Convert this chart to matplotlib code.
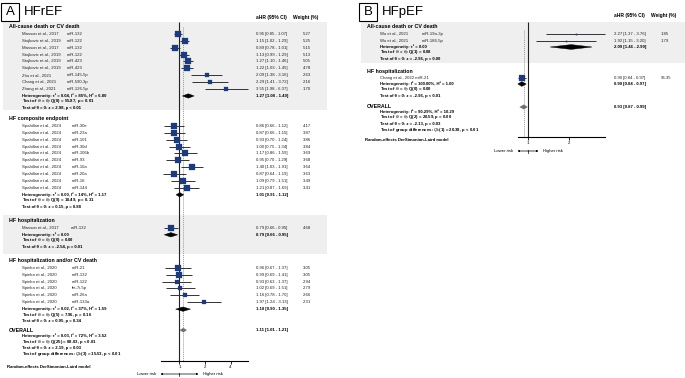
import matplotlib
matplotlib.use('Agg')
import matplotlib.pyplot as plt
from matplotlib.patches import Rectangle, Polygon
from matplotlib.transforms import blended_transform_factory
from matplotlib.ticker import NullLocator, FixedLocator, FixedFormatter
from matplotlib.lines import Line2D

plt.rcParams['font.family'] = ['Liberation Sans', 'DejaVu Sans']
plt.rcParams['mathtext.fontset'] = 'custom'
plt.rcParams['mathtext.rm'] = 'Liberation Sans'
plt.rcParams['mathtext.it'] = 'Liberation Sans:italic'
plt.rcParams['mathtext.bf'] = 'Liberation Sans:bold'

# ---------------- DATA: panel A (HFrEF) ----------------
a1_title = "All-cause death or CV death"
a1_study = ["Masson et al., 2017", "Stojkovic et al., 2019", "Masson et al., 2017",
            "Stojkovic et al., 2019", "Stojkovic et al., 2019", "Stojkovic et al., 2019",
            "Zhu et al., 2021", "Chang et al., 2021", "Zhang et al., 2021"]
a1_mir = ["miR-132", "miR-122", "miR-132", "miR-122", "miR-423", "miR-423",
          "miR-145-5p", "miR-590-3p", "miR-126-5p"]
a1_hr = [0.95, 1.15, 0.89, 1.13, 1.27, 1.22, 2.09, 2.29, 3.55]
a1_lo = [0.85, 1.02, 0.78, 0.99, 1.10, 1.03, 1.38, 1.41, 1.98]
a1_hi = [1.07, 1.29, 1.01, 1.29, 1.46, 1.45, 3.16, 3.72, 6.37]
a1_w = [5.27, 5.25, 5.15, 5.13, 5.05, 4.78, 2.63, 2.16, 1.70]
a1_sum = [1.27, 1.08, 1.49]
a1_stats = [r"Heterogeneity: τ² = 0.04, I² = 85%, H² = 6.80",
            r"Test of $\theta_i$ = $\theta_j$: Q(8) = 55.87, p = 0.01",
            r"Test of θ = 0: z = 2.98, p < 0.01"]

a2_title = "HF composite endpoint"
a2_study = ["Spahillari et al., 2024"] * 10
a2_mir = ["miR-30e", "miR-23a", "miR-101", "miR-30d", "miR-106b", "miR-93",
          "miR-10a", "miR-20a", "miR-16", "miR-144"]
a2_hr = [0.86, 0.87, 0.93, 1.00, 1.17, 0.95, 1.40, 0.87, 1.09, 1.21]
a2_lo = [0.66, 0.66, 0.70, 0.75, 0.86, 0.70, 1.03, 0.64, 0.79, 0.87]
a2_hi = [1.12, 1.15, 1.24, 1.34, 1.59, 1.29, 1.91, 1.19, 1.51, 1.69]
a2_w = [4.17, 3.87, 3.86, 3.84, 3.69, 3.68, 3.64, 3.63, 3.49, 3.41]
a2_sum = [1.01, 0.91, 1.12]
a2_stats = [r"Heterogeneity: τ² = 0.00, I² = 14%, H² = 1.17",
            r"Test of $\theta_i$ = $\theta_j$: Q(9) = 10.49, p = 0.31",
            r"Test of θ = 0: z = 0.15, p = 0.88"]

a3_title = "HF hospitalization"
a3_study = ["Masson et al., 2017"]
a3_mir = ["miR-132"]
a3_hr = [0.79]
a3_lo = [0.66]
a3_hi = [0.95]
a3_w = [4.68]
a3_sum = [0.79, 0.66, 0.95]
a3_stats = [r"Heterogeneity: τ² = 0.00",
            r"Test of $\theta_i$ = $\theta_j$: Q(0) = 0.00",
            r"Test of θ = 0: z = -2.54, p = 0.01"]

a4_title = "HF hospitalization and/or CV death"
a4_study = ["Spinka et al., 2020"] * 6
a4_mir = ["miR-21", "miR-132", "miR-122", "let-7i-5p", "miR-26a", "miR-133a"]
a4_hr = [0.96, 0.99, 0.93, 1.02, 1.16, 1.97]
a4_lo = [0.67, 0.69, 0.63, 0.69, 0.78, 1.24]
a4_hi = [1.37, 1.41, 1.37, 1.51, 1.70, 3.13]
a4_w = [3.05, 3.05, 2.94, 2.79, 2.66, 2.31]
a4_sum = [1.10, 0.90, 1.35]
a4_stats = [r"Heterogeneity: τ² = 0.02, I² = 37%, H² = 1.59",
            r"Test of $\theta_i$ = $\theta_j$: Q(5) = 7.96, p = 0.16",
            r"Test of θ = 0: z = 0.95, p = 0.34"]

a_overall = [1.11, 1.01, 1.21]
a_overall_stats = [r"Heterogeneity: τ² = 0.03, I² = 72%, H² = 3.52",
                   r"Test of $\theta_i$ = $\theta_j$: Q(25) = 88.03, p < 0.01",
                   r"Test of θ = 0: z = 2.19, p = 0.03",
                   r"Test of group differences: $Q_b$(3) = 15.53, p < 0.01"]
a_ticks = [1, 2, 4]

# ---------------- DATA: panel B (HFpEF) ----------------
b1_title = "All-cause death or CV death"
b1_study = ["Wu et al., 2021", "Wu et al., 2021"]
b1_mir = ["miR-19a-3p", "miR-186-5p"]
b1_hr = [2.27, 1.92]
b1_lo = [1.37, 1.15]
b1_hi = [3.76, 3.20]
b1_w = [1.85, 1.79]
b1_sum = [2.09, 1.46, 2.99]
b1_stats = [r"Heterogeneity: τ² = 0.00",
            r"Test of $\theta_i$ = $\theta_j$: Q(1) = 0.08",
            r"Test of θ = 0: z = -2.96, p = 0.00"]

b2_title = "HF hospitalization"
b2_study = ["Chang et al., 2022 miR-21"]
b2_mir = [""]
b2_hr = [0.90]
b2_lo = [0.84]
b2_hi = [0.97]
b2_w = [96.35]
b2_sum = [0.90, 0.84, 0.97]
b2_stats = [r"Heterogeneity: I² = 100.00%, H² = 1.00",
            r"Test of $\theta_i$ = $\theta_j$: Q(0) = 0.00",
            r"Test of θ = 0: z = -2.96, p < 0.01"]

b_overall = [0.93, 0.87, 0.99]
b_overall_stats = [r"Heterogeneity: I² = 90.29%, H² = 10.29",
                   r"Test of $\theta_i$ = $\theta_j$: Q(2) = 20.59, p = 0.00",
                   r"Test of θ = 0: z = -2.13, p = 0.03",
                   r"Test of group differences: $Q_b$(1) = 20.38, p < 0.01"]
b_ticks = [1, 2]

# ---------------- STYLE ----------------
W, H = 685, 378
NAVY = '#1c3b7d'
BAND = '#efefef'
LINE = '#333333'
F_ROW = 3.1
F_HEAD = 3.8
F_COL = 3.5

fig = plt.figure(figsize=(W / 100, H / 100), dpi=100)
bg = fig.add_axes([0, 0, 1, 1])
bg.set_xlim(0, W)
bg.set_ylim(H, 0)
bg.axis('off')


def make_forest_ax(x0, x1, ytop, ybot, xlim, ticks):
    ax = fig.add_axes([x0 / W, 1 - ybot / H, (x1 - x0) / W, (ybot - ytop) / H])
    ax.set_xscale('log', base=2)
    ax.set_xlim(*xlim)
    ax.set_ylim(ybot, ytop)
    ax.patch.set_alpha(0)
    for s in ['top', 'right', 'left']:
        ax.spines[s].set_visible(False)
    ax.spines['bottom'].set_linewidth(0.8)
    ax.yaxis.set_visible(False)
    ax.xaxis.set_major_locator(FixedLocator(ticks))
    ax.xaxis.set_major_formatter(FixedFormatter([str(t) for t in ticks]))
    ax.xaxis.set_minor_locator(NullLocator())
    ax.tick_params(axis='x', length=2, width=0.6, labelsize=3.1, pad=0.8)
    return ax


def diamond(ax, est, lo, hi, y, h, color):
    ax.add_patch(Polygon([(lo, y), (est, y - h), (hi, y), (est, y + h)],
                         closed=True, facecolor=color, edgecolor=color, lw=0.3,
                         clip_on=False, zorder=4))


def draw_panel(xoff, label, title, sections, overall, overall_stats, ax, g):
    bg.add_patch(Rectangle((1 + xoff, 2.5), 18.5, 18.5, fill=False, ec='black', lw=0.8))
    bg.text(10.25 + xoff, 12.2, label, ha='center', va='center', fontsize=9.5)
    bg.text(24 + xoff, 12, title, ha='left', va='center', fontsize=9.5)
    bg.text(256 + xoff, g['colhead_y'], "aHR (95% CI)", fontsize=F_COL,
            fontweight='bold', va='center')
    bg.text(293 + xoff, g['colhead_y'], "Weight (%)", fontsize=F_COL,
            fontweight='bold', va='center')

    y = g['y0']
    for k, sec in enumerate(sections):
        yh = y
        ys = [yh + g['head_gap'] + g['row_step'] * i for i in range(len(sec['hr']))]
        ysum = ys[-1] + g['sum_gap']
        ytxt = [ysum + g['txt_step'] * j for j in range(len(sec['stats']))]
        if sec['band']:
            top, bot = sec['band']
            bg.add_patch(Rectangle((3 + xoff, yh - top), W - 3 - xoff if xoff else 324,
                                   top + ytxt[-1] - yh + bot, facecolor=BAND,
                                   edgecolor='none', zorder=0))
        bg.text(9 + xoff, yh, sec['title'], fontsize=F_HEAD, fontweight='bold', va='center')
        for i, yy in enumerate(ys):
            bg.text(22 + xoff, yy, sec['study'][i], fontsize=F_ROW, va='center', color='#222')
            if sec['mir'][i]:
                bg.text(sec['mir_x'] + xoff, yy, sec['mir'][i], fontsize=F_ROW,
                        va='center', color='#222')
            bg.text(256 + xoff, yy, f"{sec['hr'][i]:.2f} [{sec['lo'][i]:.2f} - {sec['hi'][i]:.2f}]",
                    fontsize=F_ROW, va='center', color='#222')
            bg.text(303 + xoff, yy, f"{sec['w'][i]:.2f}", fontsize=F_ROW, va='center', color='#222')
        ax.hlines(ys, sec['lo'], sec['hi'], color=LINE, lw=0.7, zorder=3, clip_on=False)
        for i, yy in enumerate(ys):
            side = max(g['sq_k'] * sec['w'][i] ** 0.5, 1.3)
            ax.plot([sec['hr'][i]], [yy], marker='s', ms=side * 0.72, color=NAVY,
                    mec=NAVY, mew=0.2, ls='none', zorder=5, clip_on=False)
        e, l, h = sec['sum']
        diamond(ax, e, l, h, ysum, g['dia_h'], 'black')
        bg.text(256 + xoff, ysum, f"{e:.2f} [{l:.2f} - {h:.2f}]", fontsize=F_ROW,
                fontweight='bold', va='center')
        for j, yy in enumerate(ytxt):
            bg.text(22 + xoff, yy, sec['stats'][j], fontsize=F_ROW, fontweight='bold',
                    va='center')
        y = ytxt[-1] + g['sec_gaps'][k]

    yo = y
    bg.text(9 + xoff, yo, "OVERALL", fontsize=F_HEAD, fontweight='bold', va='center')
    e, l, h = overall
    diamond(ax, e, l, h, yo, g['dia_h'] * 0.9, '#6e6e6e')
    bg.text(256 + xoff, yo, f"{e:.2f} [{l:.2f} - {h:.2f}]", fontsize=F_ROW,
            fontweight='bold', va='center')
    ylast = yo
    for j, st in enumerate(overall_stats):
        ylast = yo + g['ov_gap'] + g['txt_step'] * j
        bg.text(22 + xoff, ylast, st, fontsize=F_ROW, fontweight='bold', va='center')
    bg.text(7 + xoff, ylast + g['rand_gap'], "Random-effects DerSimonian-Laird model",
            fontsize=F_ROW, fontweight='bold', va='center')

    ax.vlines(1, 22, g['ybot'], color='#222', lw=0.8, zorder=2)
    ax.vlines(e, g['dot_top'], g['ybot'], color='#9a9a9a', lw=0.7,
              linestyles=(0, (1, 1)), zorder=1)

    blend = blended_transform_factory(ax.transData, bg.transData)
    ya = g['arrow_y']
    L = g['arrow_len'] * 0.72
    for sgn, txt, ha in [(-1, "Lower risk", 'right'), (1, "Higher risk", 'left')]:
        bg.annotate('', xy=(1, ya), xycoords=blend, xytext=(sgn * L, 0),
                    textcoords='offset points',
                    arrowprops=dict(arrowstyle='<|-', lw=0.5, color='black',
                                    mutation_scale=2.5, shrinkA=0, shrinkB=0))
        bg.annotate(txt, xy=(1, ya), xycoords=blend, xytext=(sgn * (L + 3), 0),
                    textcoords='offset points', ha=ha, va='center', fontsize=3.1)
    bg.add_line(Line2D([1, 1], [ya - 1.5, ya + 1.5], transform=blend, color='black', lw=0.5))


def sec(title, study, mir, hr, lo, hi, w, s, stats, mir_x, band):
    return dict(title=title, study=study, mir=mir, hr=hr, lo=lo, hi=hi, w=w,
                sum=s, stats=stats, mir_x=mir_x, band=band)


axA = make_forest_ax(161, 248, 22, 361, (0.605, 6.43), a_ticks)
secA = [sec(a1_title, a1_study, a1_mir, a1_hr, a1_lo, a1_hi, a1_w, a1_sum, a1_stats, 67, (5, 2.5)),
        sec(a2_title, a2_study, a2_mir, a2_hr, a2_lo, a2_hi, a2_w, a2_sum, a2_stats, 72, None),
        sec(a3_title, a3_study, a3_mir, a3_hr, a3_lo, a3_hi, a3_w, a3_sum, a3_stats, 71, (6, 7)),
        sec(a4_title, a4_study, a4_mir, a4_hr, a4_lo, a4_hi, a4_w, a4_sum, a4_stats, 72, None)]
gA = dict(y0=27, head_gap=7, row_step=6.87, sum_gap=7, txt_step=6, sec_gaps=[11, 14, 14, 9],
          ov_gap=6, rand_gap=13, sq_k=2.9, dia_h=2.2, ybot=361, dot_top=27,
          arrow_y=374, arrow_len=19, colhead_y=17)
draw_panel(0, "A", "HFrEF", secA, a_overall, a_overall_stats, axA, gA)

XB = 358
axB = make_forest_ax(518, 605, 22, 137, (0.843, 3.73), b_ticks)
secB = [sec(b1_title, b1_study, b1_mir, b1_hr, b1_lo, b1_hi, b1_w, b1_sum, b1_stats, 64, (5, 4)),
        sec(b2_title, b2_study, b2_mir, b2_hr, b2_lo, b2_hi, b2_w, b2_sum, b2_stats, 64, None)]
gB = dict(y0=27, head_gap=7, row_step=7, sum_gap=6, txt_step=6, sec_gaps=[12, 11],
          ov_gap=5, rand_gap=10, sq_k=0.56, dia_h=2.4, ybot=137, dot_top=30,
          arrow_y=151, arrow_len=10.5, colhead_y=16)
draw_panel(XB, "B", "HFpEF", secB, b_overall, b_overall_stats, axB, gB)

fig.savefig('out.png', dpi=100)
